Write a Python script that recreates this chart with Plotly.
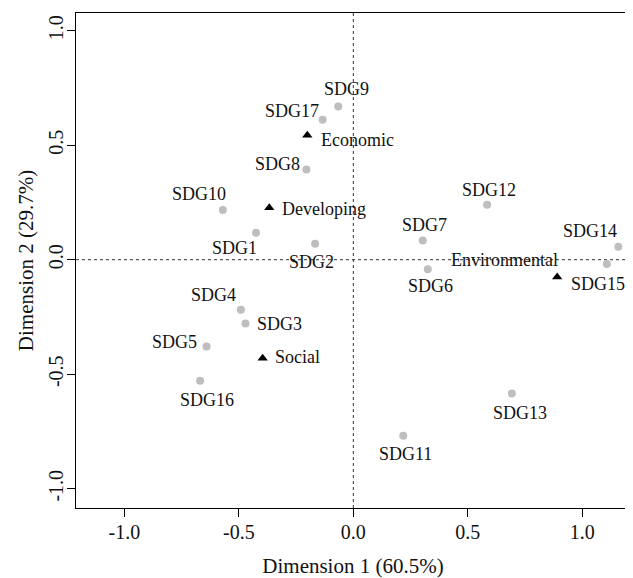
import plotly.graph_objects as go

# ---- data ----
sdg_labels = ["SDG1", "SDG2", "SDG3", "SDG4", "SDG5", "SDG6", "SDG7", "SDG8", "SDG9",
              "SDG10", "SDG11", "SDG12", "SDG13", "SDG14", "SDG15", "SDG16", "SDG17"]
sdg_dim1 = [-0.425, -0.167, -0.471, -0.491, -0.641, 0.325, 0.303, -0.205, -0.066,
            -0.570, 0.218, 0.584, 0.692, 1.157, 1.107, -0.669, -0.134]
sdg_dim2 = [0.118, 0.070, -0.279, -0.219, -0.379, -0.042, 0.084, 0.394, 0.669,
            0.217, -0.769, 0.240, -0.584, 0.057, -0.019, -0.529, 0.611]

group_labels = ["Economic", "Developing", "Social", "Environmental"]
group_dim1 = [-0.201, -0.367, -0.396, 0.890]
group_dim2 = [0.543, 0.227, -0.430, -0.076]

tick_vals = [-1.0, -0.5, 0.0, 0.5, 1.0]
tick_text = ["-1.0", "-0.5", "0.0", "0.5", "1.0"]

x_title = "Dimension 1 (60.5%)"
y_title = "Dimension 2 (29.7%)"

# ---- label placement (style: anchor, x pixel shift, y pixel shift (down +)) ----
label_style = {
    "SDG1": ("center", -22, 15), "SDG2": ("center", -4, 18), "SDG3": ("left", 10, 0),
    "SDG4": ("center", -27, -15), "SDG5": ("right", -8, -5), "SDG6": ("center", 3, 17),
    "SDG7": ("center", 2, -15), "SDG8": ("right", -4, -5), "SDG9": ("center", 8, -17),
    "SDG10": ("center", -24, -16), "SDG11": ("center", 2, 18), "SDG12": ("center", 2, -15),
    "SDG13": ("center", 8, 20), "SDG14": ("center", -28, -16), "SDG15": ("center", -9, 20),
    "SDG16": ("center", 7, 19), "SDG17": ("right", -2, -9),
    "Economic": ("left", 12, 5), "Developing": ("left", 11, 1),
    "Social": ("left", 10, -1), "Environmental": ("right", 3, -17),
}

FONT = "Liberation Serif, Times New Roman, serif"

fig = go.Figure()

fig.add_trace(go.Scatter(
    x=sdg_dim1, y=sdg_dim2, mode="markers",
    marker=dict(color="#bebebe", size=8, line=dict(width=0)),
    showlegend=False, hoverinfo="text", text=sdg_labels, cliponaxis=False,
))
fig.add_trace(go.Scatter(
    x=group_dim1, y=group_dim2, mode="markers",
    marker=dict(color="black", size=9, symbol="triangle-up", line=dict(width=0)),
    showlegend=False, hoverinfo="text", text=group_labels,
))

# dotted reference lines
fig.add_shape(type="line", xref="x", yref="paper", x0=0, x1=0, y0=0, y1=1,
              line=dict(color="#333333", width=1, dash="dot"), layer="below")
fig.add_shape(type="line", xref="paper", yref="y", x0=0, x1=1, y0=0, y1=0,
              line=dict(color="#333333", width=1, dash="dot"), layer="below")

for labels, xs, ys in [(sdg_labels, sdg_dim1, sdg_dim2), (group_labels, group_dim1, group_dim2)]:
    for lab, xv, yv in zip(labels, xs, ys):
        anchor, dx, dy = label_style[lab]
        fig.add_annotation(x=xv, y=yv, text=lab, showarrow=False,
                           xanchor=anchor, yanchor="middle",
                           xshift=dx, yshift=-dy,
                           font=dict(family=FONT, size=18, color="#111111"))

axis_common = dict(
    showgrid=False, zeroline=False, showline=True, mirror=True,
    linecolor="black", linewidth=1, ticks="outside", ticklen=8,
    tickcolor="black", tickwidth=1, automargin=False,
    tickvals=tick_vals, ticktext=tick_text,
    tickfont=dict(family=FONT, size=20, color="#111111"),
)

# the page adds an 8px body margin, so the figure is made 8px smaller
fig.update_layout(
    width=625, height=570,
    margin=dict(l=68, r=3, t=5, b=70),
    paper_bgcolor="white", plot_bgcolor="white",
    xaxis=dict(range=[-1.211, 1.208], ticklabelstandoff=-2,
               title=dict(text=x_title, standoff=16,
                          font=dict(family=FONT, size=21, color="#111111")), **axis_common),
    yaxis=dict(range=[-1.084, 1.077], tickangle=-90, ticklabelstandoff=-4,
               title=dict(text=y_title, standoff=5,
                          font=dict(family=FONT, size=21, color="#111111")), **axis_common),
)

fig.write_html("out.html")
